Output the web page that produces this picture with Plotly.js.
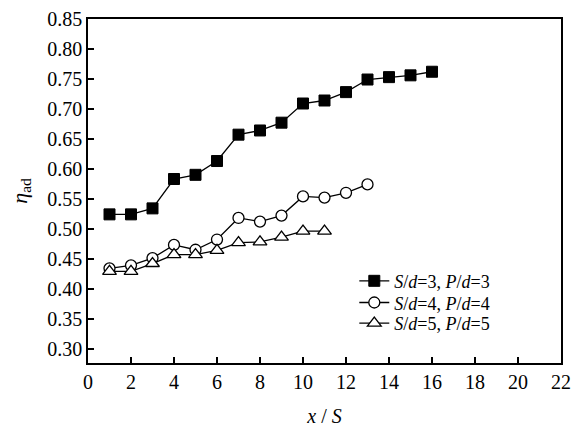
<!DOCTYPE html>
<html><head><meta charset="utf-8">
<script src="https://cdn.plot.ly/plotly-3.0.1.min.js"></script>
<style>html,body{margin:0;padding:0;background:#fff;overflow:hidden;font-family:'Liberation Serif',serif}
#c{position:absolute;left:0;top:0;width:571px;height:427px;font-family:'Liberation Serif',serif}
#pre{position:absolute;left:2px;bottom:2px;z-index:10;color:#fff;font-family:'Liberation Serif';font-size:6px;line-height:6px;pointer-events:none}</style>
</head><body><div id="c"></div><div id="pre">η <i>S</i>/<i>d</i> 0.85</div>
<script>
const x1 = [1,2,3,4,5,6,7,8,9,10,11,12,13,14,15,16];
const y1 = [0.524,0.524,0.534,0.583,0.590,0.613,0.657,0.664,0.677,0.709,0.714,0.728,0.749,0.753,0.756,0.762];
const x2 = [1,2,3,4,5,6,7,8,9,10,11,12,13];
const y2 = [0.434,0.439,0.451,0.473,0.465,0.482,0.518,0.512,0.522,0.554,0.552,0.560,0.574];
const x3 = [1,2,3,4,5,6,7,8,9,10,11];
const y3 = [0.429,0.429,0.442,0.457,0.457,0.464,0.477,0.478,0.486,0.496,0.496];
const names = ['<i>S</i>/<i>d</i>=3, <i>P</i>/<i>d</i>=3','<i>S</i>/<i>d</i>=4, <i>P</i>/<i>d</i>=4','<i>S</i>/<i>d</i>=5, <i>P</i>/<i>d</i>=5'];
const xTicks = [0,2,4,6,8,10,12,14,16,18,20,22];
const yTicks = [0.30,0.35,0.40,0.45,0.50,0.55,0.60,0.65,0.70,0.75,0.80,0.85];

const FF = 'Liberation Serif';
function mkFont(size){ return {family:FF, size:size, color:'#000'}; }
const lineStyle = {color:'#000', width:1.3};
const traces = [
  {x:x1,y:y1,name:names[0],legend:'legend',mode:'lines+markers',line:lineStyle,
   marker:{symbol:'square',size:11,color:'#000',line:{color:'#000',width:1}}},
  {x:x2,y:y2,name:names[1],legend:'legend2',mode:'lines+markers',line:lineStyle,
   marker:{symbol:'circle',size:11,color:'#fff',line:{color:'#000',width:1.3}}},
  {x:x3,y:y3,name:names[2],legend:'legend3',mode:'lines+markers',line:lineStyle,
   marker:{symbol:'triangle-up',size:12,color:'#fff',line:{color:'#000',width:1.3}}}
];
function mkAxis(extra){
  return Object.assign({showgrid:false,zeroline:false,showline:true,linecolor:'#000',linewidth:1.5,mirror:true,
    ticks:'inside',ticklen:6,tickwidth:1.5,tickcolor:'#000',tickfont:mkFont(20)}, extra);
}
function mkLegend(y){
  return {x:0.563,y:y,xanchor:'left',yanchor:'middle',bgcolor:'rgba(0,0,0,0)',font:mkFont(18)};
}
const layout = {
  width:571,height:427,margin:{l:88,r:10,t:19,b:64},
  paper_bgcolor:'#fff',plot_bgcolor:'#fff',font:mkFont(18),showlegend:true,
  xaxis:mkAxis({range:[0,22],tickvals:xTicks,ticktext:xTicks.map(String),
    title:{text:'<i>x</i> / <i>S</i>',font:mkFont(20),standoff:22}}),
  yaxis:mkAxis({range:[0.276,0.85],tickvals:yTicks,ticktext:yTicks.map(v=>v.toFixed(2)),
    title:{text:'<i>η</i><sub>ad</sub>',font:mkFont(22),standoff:14}}),
  legend:mkLegend(0.238),
  legend2:mkLegend(0.175),
  legend3:mkLegend(0.115)
};
function draw(){ return Plotly.newPlot('c',traces,layout,{displayModeBar:false}); }
draw();
setTimeout(draw, 150);
</script></body></html>
